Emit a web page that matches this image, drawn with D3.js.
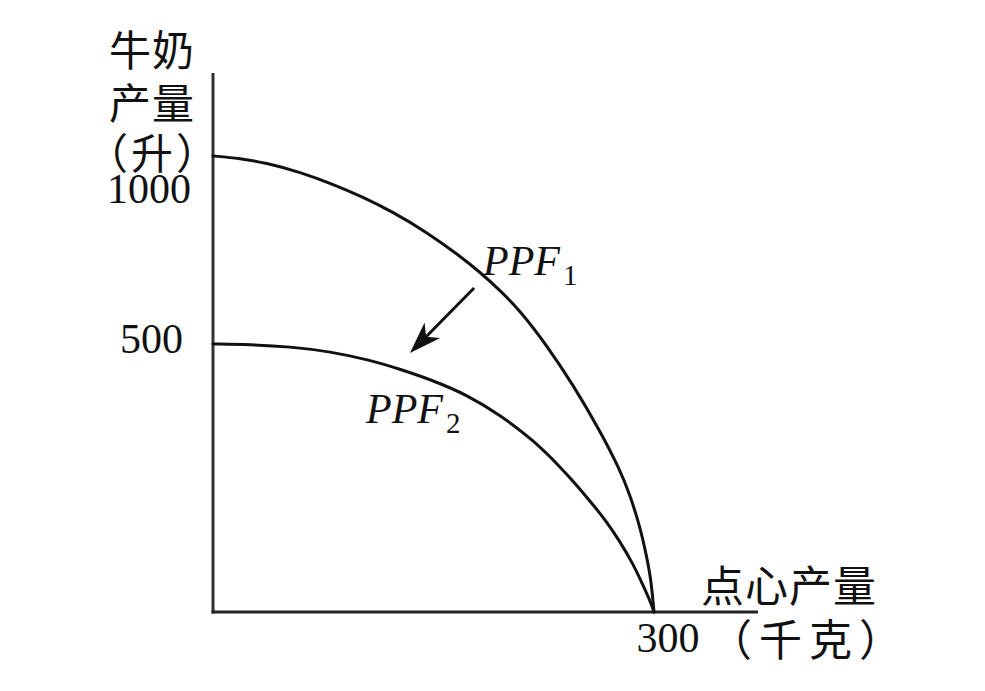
<!DOCTYPE html>
<html>
<head>
<meta charset="utf-8">
<script src="https://cdn.jsdelivr.net/npm/d3@7"></script>
<style>
  html, body { margin: 0; padding: 0; background: #ffffff; }
  svg { display: block; }
</style>
</head>
<body>
<svg id="chart" width="985" height="691"></svg>
<script>
// ---- data ----
const xTickValues = [300];
const yTickValues = [500, 1000];
const yTickLabels = ["500", "1000"];
const xTickLabels = ["300"];
const yTitleLines = ["牛奶", "产量", "（升）"];
const xTitle = "点心产量";
const xUnit = "（千克）";

// PPF1: [点心产量(千克), 牛奶产量(升)]
const ppf1 = [
  [0, 1000], [18.4, 994], [36.7, 981], [59.2, 957], [81.6, 925],
  [102.0, 891], [122.4, 851], [145.6, 797], [168.0, 734], [181.6, 691],
  [195.2, 643], [208.8, 589], [227.2, 497], [244.9, 424], [263.3, 338],
  [276.9, 265], [283.7, 218], [290.5, 159], [295.2, 101], [298.0, 60], [300, 0]
];
// PPF2
const ppf2 = [
  [0, 500], [25.2, 499], [52.4, 495], [79.6, 486], [106.8, 470],
  [127.2, 453], [149.7, 432], [172.8, 405], [195.2, 368], [217.7, 321],
  [236.1, 271], [244.9, 244], [256.5, 207], [268.0, 168], [276.9, 131],
  [285.7, 90], [292.5, 50], [297.3, 21], [300, 0]
];
const shiftArrow = [[177.6, 649], [134, 483]];
const curveNames = ["PPF", "PPF"];
const curveSubs = ["1", "2"];

// ---- layout ----
const svg = d3.select("#chart");
const x = d3.scaleLinear().domain([0, 300]).range([213, 654]);
const y = d3.scaleLinear().domain([0, 500, 1000]).range([612, 344, 156]);

const serif = "'Liberation Serif', 'Times New Roman', serif";
const cjk = "'Noto Sans CJK SC', sans-serif";
const ink = "#111";

// axes
svg.append("line")
  .attr("x1", x(0)).attr("x2", x(0))
  .attr("y1", y(0) + 1.5).attr("y2", 73)
  .attr("stroke", "#333").attr("stroke-width", 3);
svg.append("line")
  .attr("x1", x(0) - 1.5).attr("x2", 758)
  .attr("y1", y(0)).attr("y2", y(0))
  .attr("stroke", "#222").attr("stroke-width", 3);

// curves
const line = d3.line().x(d => x(d[0])).y(d => y(d[1])).curve(d3.curveBasis);
[ppf1, ppf2].forEach(s => {
  svg.append("path").attr("d", line(s))
    .attr("fill", "none").attr("stroke", ink)
    .attr("stroke-width", 3).attr("stroke-linecap", "round")
    .attr("stroke-linejoin", "round");
});

// arrow
const [p0, p1] = shiftArrow.map(d => [x(d[0]), y(d[1])]);
const dx = p1[0] - p0[0], dy = p1[1] - p0[1];
const len = Math.hypot(dx, dy);
const u = [dx / len, dy / len];
const n = [-u[1], u[0]];
const L = 32, W = 11, notch = 9;
const base = [p1[0] - (L - notch) * u[0], p1[1] - (L - notch) * u[1]];
svg.append("line")
  .attr("x1", p0[0]).attr("y1", p0[1])
  .attr("x2", base[0]).attr("y2", base[1])
  .attr("stroke", ink).attr("stroke-width", 3);
const head = [
  p1,
  [p1[0] - L * u[0] + W * n[0], p1[1] - L * u[1] + W * n[1]],
  base,
  [p1[0] - L * u[0] - W * n[0], p1[1] - L * u[1] - W * n[1]]
];
svg.append("path").attr("d", "M" + head.map(p => p.join(",")).join("L") + "Z")
  .attr("fill", ink);

// y tick labels (placed as in original)
const yLabelDx = [-30, -22];
const yLabelDy = [9, 47];
yTickValues.forEach((v, i) => {
  svg.append("text")
    .attr("x", x(0) + yLabelDx[i]).attr("y", y(v) + yLabelDy[i])
    .attr("text-anchor", "end")
    .attr("font-family", serif).attr("font-size", 42)
    .attr("fill", ink)
    .text(yTickLabels[i]);
});

// x tick label
xTickValues.forEach((v, i) => {
  svg.append("text")
    .attr("x", x(v) + 14).attr("y", 652)
    .attr("text-anchor", "middle")
    .attr("font-family", serif).attr("font-size", 42)
    .attr("fill", ink)
    .text(xTickLabels[i]);
});

// y title: one text block with three lines
const yTitleY = [47, 100, 150];
const yTitle = svg.append("text")
  .attr("font-family", cjk).attr("font-size", 42)
  .attr("dominant-baseline", "central")
  .attr("fill", ink);
yTitleLines.forEach((t, i) => {
  yTitle.append("tspan")
    .attr("x", i === 2 ? 86 : 109).attr("y", yTitleY[i])
    .attr("letter-spacing", i === 2 ? 3 : 1)
    .text(t);
});

// x title
svg.append("text")
  .attr("x", 701).attr("y", 583)
  .attr("dominant-baseline", "central")
  .attr("font-family", cjk).attr("font-size", 43)
  .attr("letter-spacing", 1)
  .attr("fill", ink)
  .text(xTitle);
svg.append("text")
  .attr("x", 709).attr("y", 637)
  .attr("dominant-baseline", "central")
  .attr("font-family", cjk).attr("font-size", 43)
  .attr("letter-spacing", 7)
  .attr("fill", ink)
  .text(xUnit);

// curve labels
const labelPos = [[483, 275], [366, 423]];
curveNames.forEach((nm, i) => {
  const t = svg.append("text")
    .attr("x", labelPos[i][0]).attr("y", labelPos[i][1])
    .attr("font-family", serif).attr("font-size", 42)
    .attr("fill", ink);
  t.append("tspan").attr("font-style", "italic").text(nm);
  t.append("tspan").attr("font-size", 29).attr("dx", 3).attr("dy", 10).text(curveSubs[i]);
});
</script>
</body>
</html>
